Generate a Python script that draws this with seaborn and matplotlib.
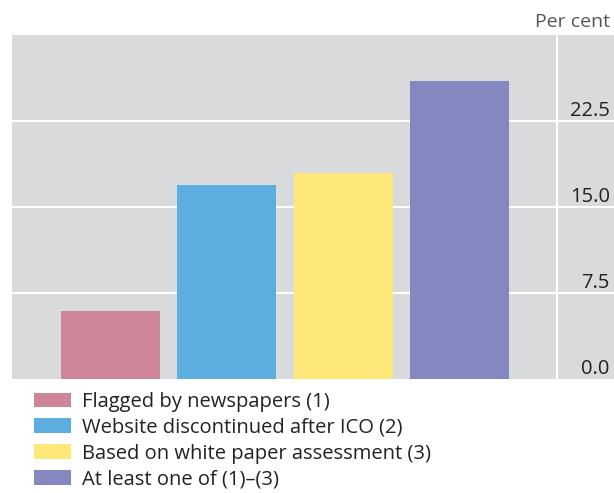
import matplotlib
matplotlib.use("Agg")
import matplotlib.pyplot as plt
import seaborn as sns
import pandas as pd

categories = ["Flagged by newspapers (1)", "Website discontinued after ICO (2)",
              "Based on white paper assessment (3)", "At least one of (1)–(3)"]
values = [5.9, 16.9, 18.0, 26.0]
colors = ["#CE8599", "#5DAEE0", "#FFE87A", "#8588C0"]
yticks = [0.0, 7.5, 15.0, 22.5]
ytick_labels = ["0.0", "7.5", "15.0", "22.5"]

sns.set_theme(style="white")
plt.rcParams['font.family'] = ['Open Sans', 'DejaVu Sans']

df = pd.DataFrame({"cat": categories, "val": values})

fig = plt.figure(figsize=(6.14, 4.93), dpi=100)
ax = fig.add_axes([12/614, 1 - 379/493, 1 - 12/614, (379 - 35)/493])
ax.set_facecolor("#D9DADC")

sns.barplot(data=df, x="cat", y="val", hue="cat", palette=colors, width=0.85,
            saturation=1, legend=True, ax=ax, zorder=3, linewidth=0, edgecolor="none")

ax.set_xlim(-0.847, 4.328)
ax.set_ylim(0, 30)
ax.set_xlabel("")
ax.set_ylabel("")
ax.set_xticks([])
for s in ax.spines.values():
    s.set_visible(False)

ax.yaxis.tick_right()
ax.set_yticks(yticks)
ax.set_yticklabels(ytick_labels)
ax.tick_params(axis="y", length=0, pad=-3, labelsize=14.5, labelcolor="#222222")
for lab in ax.get_yticklabels():
    lab.set_horizontalalignment("right")
    lab.set_verticalalignment("bottom")
for y in yticks[1:]:
    ax.axhline(y, color="white", lw=1.5, zorder=1)
ax.axvline(3.842, color="white", lw=1.5, zorder=1)

fig.text(610/614, 1 - 22/493, "Per cent", ha="right", va="center",
         fontsize=14, color="#555555")

handles, labels = ax.get_legend_handles_labels()
ax.legend_.remove()
fig.legend(handles, labels, loc="upper left", bbox_to_anchor=(34/614, 1 - 392/493),
           frameon=False, fontsize=14.5, handlelength=1.84, handleheight=0.75,
           handletextpad=0.55, labelspacing=0.29, borderaxespad=0, borderpad=0,
           labelcolor="#222222")

fig.savefig("out.png", dpi=100)
